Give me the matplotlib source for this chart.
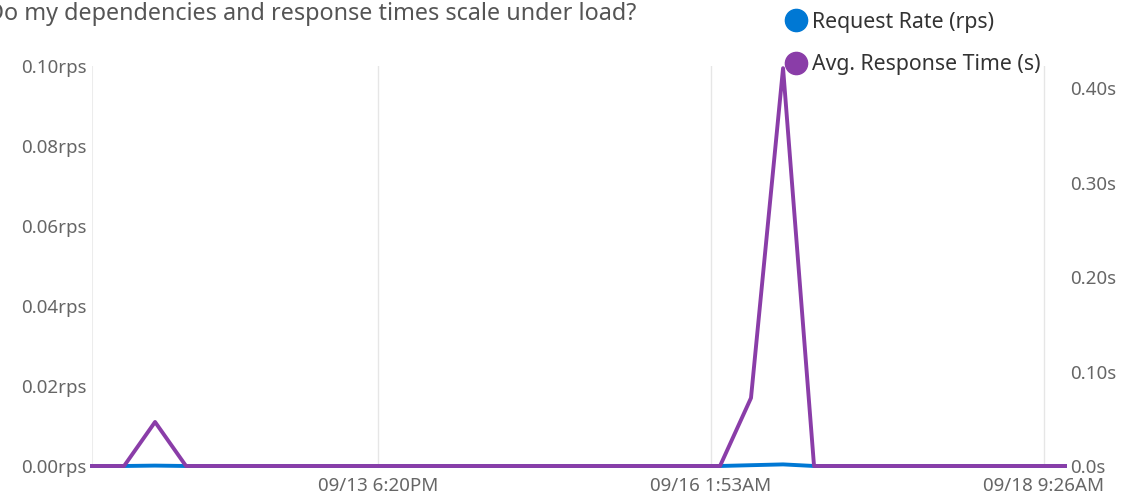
import matplotlib
matplotlib.use("Agg")
import matplotlib.pyplot as plt
from matplotlib.lines import Line2D
import pandas as pd

plt.rcParams['font.family'] = ['Noto Sans', 'DejaVu Sans']

# data
times = pd.to_datetime([
    "2023-09-11 18:37", "2023-09-11 23:58", "2023-09-12 05:08", "2023-09-12 10:18",
    "2023-09-16 03:23", "2023-09-16 08:33", "2023-09-16 13:54", "2023-09-16 19:04",
    "2023-09-18 12:56",
])
resp_time = [0.0, 0.0, 0.0466, 0.0, 0.0, 0.072, 0.421, 0.0, 0.0]        # s
req_rate = [0.0, 0.0, 0.0001, 0.0, 0.0, 0.0002, 0.0004, 0.0, 0.0]       # rps

tick_times = pd.to_datetime(["2023-09-13 18:20", "2023-09-16 01:53", "2023-09-18 09:26"])
tick_labels = ["09/13 6:20PM", "09/16 1:53AM", "09/18 9:26AM"]
left_ticks = [0.0, 0.02, 0.04, 0.06, 0.08, 0.10]
left_labels = ["0.00rps", "0.02rps", "0.04rps", "0.06rps", "0.08rps", "0.10rps"]
right_ticks = [0.0, 0.1, 0.2, 0.3, 0.4]
right_labels = ["0.0s", "0.10s", "0.20s", "0.30s", "0.40s"]

blue = "#0078d4"
purple = "#8a3da8"
grey_txt = "#666666"

fig = plt.figure(figsize=(11.24, 4.98), dpi=100)
ax = fig.add_axes([92/1124, 1 - 466/498, (1065-92)/1124, (466-66)/498])
ax2 = ax.twinx()

ax.set_xlim(times[0], times[-1])
ax.set_ylim(0, 0.10)
ax2.set_ylim(0, 0.4233)

# grid
for t in tick_times:
    ax.axvline(t, color="#e6e6e6", lw=1, zorder=0)
ax.axvline(times[0], color="#ececec", lw=1.5, zorder=0)

ax.plot(times, req_rate, color=blue, lw=2.8, clip_on=False, zorder=3)
ax2.plot(times, resp_time, color=purple, lw=2.8, clip_on=False, zorder=4)

ax.set_xticks(tick_times)
ax.set_xticklabels(tick_labels)
ax.set_yticks(left_ticks)
ax.set_yticklabels(left_labels)
ax2.set_yticks(right_ticks)
ax2.set_yticklabels(right_labels)

for a in (ax, ax2):
    for s in a.spines.values():
        s.set_visible(False)
ax.tick_params(axis="x", length=0, pad=8, labelsize=13.5, labelcolor=grey_txt)
ax.tick_params(axis="y", length=0, pad=4, labelsize=13.5, labelcolor=grey_txt)
ax2.tick_params(axis="y", length=0, pad=4, labelsize=13.5, labelcolor=grey_txt)

fig.text(-0.012, 1 - 14/498, "Do my dependencies and response times scale under load?",
         fontsize=16.8, color="#555555", va="center", ha="left")

handles = [Line2D([], [], color=blue, marker="o", ls="", markersize=16),
           Line2D([], [], color=purple, marker="o", ls="", markersize=16)]
fig.legend(handles, ["Request Rate (rps)", "Avg. Response Time (s)"],
           loc="upper left", bbox_to_anchor=(770/1124, 1.002), frameon=False,
           fontsize=15.3, labelcolor="#333333", handletextpad=0.2,
           labelspacing=1.0, handlelength=1.2, borderaxespad=0.2)

fig.savefig("out.png", dpi=100)
